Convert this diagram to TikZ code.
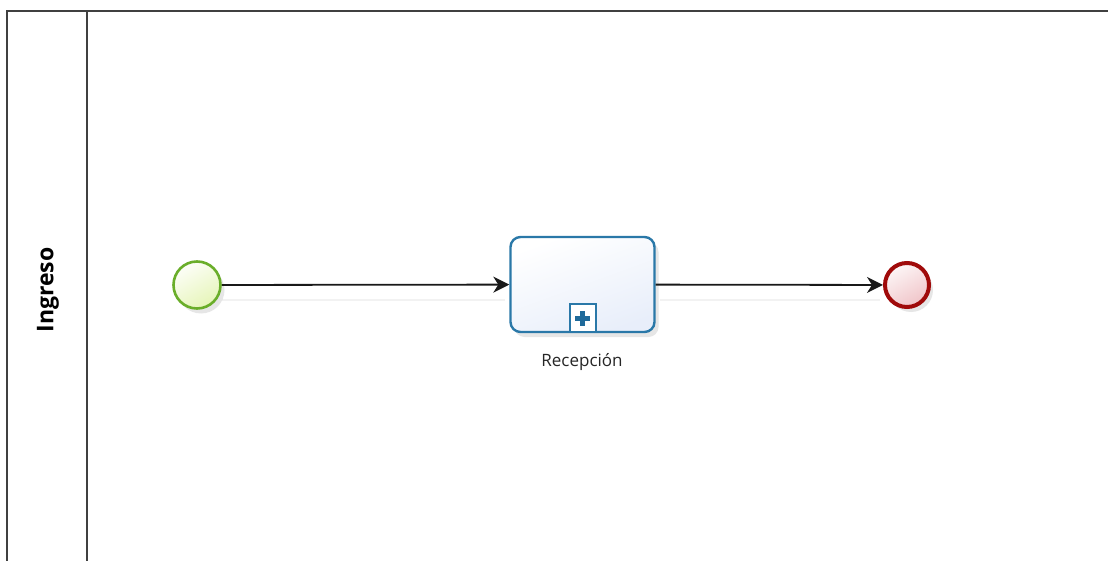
\documentclass[tikz,border=0pt]{standalone}
\usepackage{fontspec}
\setmainfont{Open Sans}
\usetikzlibrary{arrows.meta,shadows,calc}
\definecolor{laneline}{HTML}{404040}
\definecolor{startline}{HTML}{6AAE2A}
\definecolor{startfill}{HTML}{E6F5B8}
\definecolor{taskline}{HTML}{2A78A8}
\definecolor{taskfill}{HTML}{E8EEFA}
\definecolor{endline}{HTML}{A00A0A}
\definecolor{endfill}{HTML}{F0C4C8}
\definecolor{markerblue}{HTML}{1F6A9A}
\tikzset{
  lane/.style={draw=laneline, line width=1.6pt},
  softshadow/.style={drop shadow={shadow xshift=4pt, shadow yshift=-5pt, opacity=0.16, fill=black!60}},
  startevent/.style={circle, minimum size=47pt, inner sep=0pt, draw=startline, line width=2.6pt,
    top color=white!90!startfill, bottom color=startfill, shading angle=30, softshadow},
  endevent/.style={circle, minimum size=44pt, inner sep=0pt, draw=endline, line width=4pt,
    top color=white!85!endfill, bottom color=endfill, shading angle=30, softshadow},
  subproc/.style={rectangle, rounded corners=10pt, minimum width=144pt, minimum height=95pt,
    draw=taskline, line width=2.4pt, top color=white, bottom color=taskfill, shading angle=20, softshadow},
  flow/.style={draw=black!90, line width=1.8pt, -{Stealth[length=16pt, width=16pt, inset=5pt]}},
  flowshade/.style={draw=black!5, line width=1.4pt},
  caption/.style={font=\fontsize{17pt}{19pt}\selectfont, text=black!85},
}
\begin{document}
\begin{tikzpicture}[x=1pt, y=-1pt]
  \useasboundingbox (0,0) rectangle (1108,561);
  \fill[white] (0,0) rectangle (1108,561);

  % pool and lane header
  \draw[lane] (7,561) -- (7,11) -- (1108,11);
  \draw[lane] (87,11) -- (87,561);
  \node[rotate=90, font=\fontsize{23pt}{26pt}\selectfont\bfseries] (lanename) at (48,290) {Ingreso};

  % faint traces under the sequence flows
  \draw[flowshade] (222,300) -- (505,300);
  \draw[flowshade] (660,300) -- (880,300);

  % events and sub-process
  \node[startevent] (start) at (197,285) {};
  \node[subproc] (recep) at (582.5,284.5) {};
  \node[endevent] (finish) at (907,285) {};

  % collapsed sub-process marker
  \node[draw=taskline, line width=2pt, fill=white, minimum width=26pt, minimum height=28pt,
        inner sep=0pt, anchor=south] (marker) at (recep.south) {};
  \fill[markerblue] ($(marker.center)+(-7.5,-2.5)$) rectangle ++(15,5);
  \fill[markerblue] ($(marker.center)+(-2.5,-7.5)$) rectangle ++(5,15);

  \node[caption] (reclabel) at (582,362) {Recepción};

  % sequence flows
  \draw[flow] (start) -- (recep);
  \draw[flow] (recep) -- (finish);
\end{tikzpicture}
\end{document}
